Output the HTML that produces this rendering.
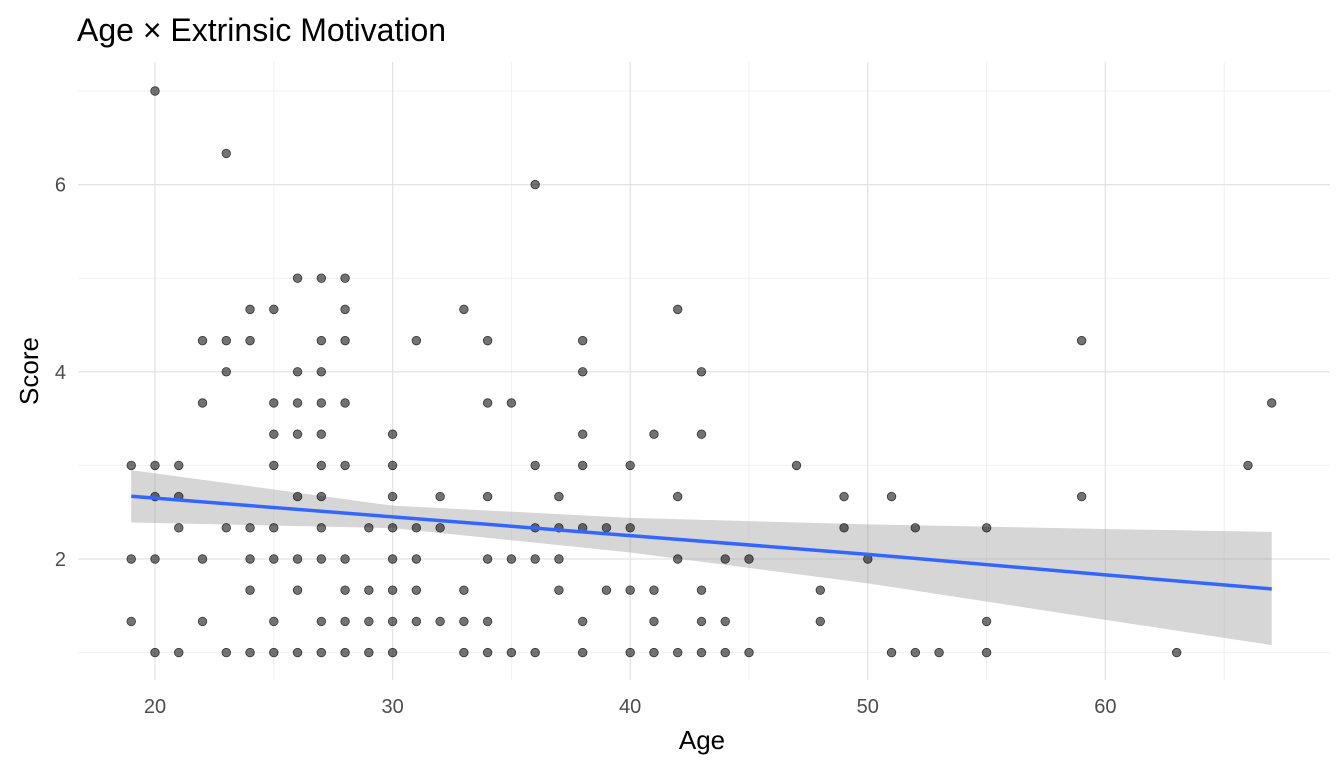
<!DOCTYPE html>
<html><head><meta charset="utf-8"><style>
html,body{margin:0;padding:0;background:#fff;}
svg{display:block;font-family:"Liberation Sans",Arial,sans-serif;}
</style></head><body>
<svg id="chart" width="1344" height="768" viewBox="0 0 1344 768" xmlns="http://www.w3.org/2000/svg">
<rect x="0" y="0" width="1344" height="768" fill="#fff"/>
<g id="grid"></g>
<g id="ribbon"></g>
<g id="points"></g>
<g id="fit"></g>
<g id="ticks"></g>
<text x="77" y="41" font-size="32" fill="#000">Age × Extrinsic Motivation</text>
<text x="702" y="749" font-size="26" text-anchor="middle" fill="#000">Age</text>
<text transform="translate(38,371) rotate(-90)" font-size="26" text-anchor="middle" fill="#000">Score</text>
</svg>
<script>
const xTicks = [20,30,40,50,60];
const xMinor = [25,35,45,55,65];
const yTicks = [2,4,6];
const yMinor = [1,3,5,7];
const ages = [19,19,19,20,20,20,20,20,21,21,21,21,22,22,22,22,23,23,23,23,23,24,24,24,24,24,24,25,25,25,25,25,25,25,25,26,26,26,26,26,26,26,26,27,27,27,27,27,27,27,27,27,27,27,28,28,28,28,28,28,28,28,28,29,29,29,29,30,30,30,30,30,30,30,30,31,31,31,31,31,32,32,32,33,33,33,33,34,34,34,34,34,34,35,35,35,36,36,36,36,36,37,37,37,37,38,38,38,38,38,38,38,39,39,40,40,40,40,41,41,41,41,42,42,42,42,43,43,43,43,43,44,44,44,45,45,47,48,48,49,49,50,51,51,52,52,53,55,55,55,59,59,63,66,67];
const scores = [3,2,1.333,7,3,2.667,2,1,3,2.667,2.333,1,4.333,3.667,2,1.333,6.333,4.333,4,2.333,1,4.667,4.333,2.333,2,1.667,1,4.667,3.667,3.333,3,2.333,2,1.333,1,5,4,3.667,3.333,2.667,2,1.667,1,5,4.333,4,3.667,3.333,3,2.667,2.333,2,1.333,1,5,4.667,4.333,3.667,3,2,1.667,1.333,1,2.333,1.667,1.333,1,3.333,3,2.667,2.333,2,1.667,1.333,1,4.333,2.333,2,1.667,1.333,2.667,2.333,1.333,4.667,1.667,1.333,1,4.333,3.667,2.667,2,1.333,1,3.667,2,1,6,3,2.333,2,1,2.667,2.333,2,1.667,4.333,4,3.333,3,2.333,1.333,1,2.333,1.667,3,2.333,1.667,1,3.333,1.667,1.333,1,4.667,2.667,2,1,4,3.333,1.667,1.333,1,2,1.333,1,2,1,3,1.667,1.333,2.667,2.333,2,2.667,1,2.333,1,1,2.333,1.333,1,4.333,2.667,1,3,3.667];
const fitAge = [19,30,40,50,60,67];
const fitVal = [2.67,2.45,2.25,2.05,1.83,1.68];
const fitLo = [2.39,2.33,2.07,1.74,1.35,1.08];
const fitHi = [2.95,2.57,2.44,2.37,2.32,2.29];

const X = v => 155 + (v-20)*23.76;
const Y = v => 559 - (v-2)*93.6;
const L=78,R=1330,T=62,B=680;
const NS="http://www.w3.org/2000/svg";
function mk(tag,attrs,parent){const e=document.createElementNS(NS,tag);for(const k in attrs)e.setAttribute(k,attrs[k]);parent.appendChild(e);return e;}
const grid=document.getElementById('grid');
xMinor.forEach(v=>{const l=mk('line',{x1:X(v),x2:X(v),y1:T,y2:B,stroke:'#f0f0f0','stroke-width':1},grid);

});
yMinor.forEach(v=>{const l=mk('line',{x1:L,x2:R,y1:Y(v),y2:Y(v),stroke:'#f0f0f0','stroke-width':1},grid);

});
xTicks.forEach(v=>{const l=mk('line',{x1:X(v),x2:X(v),y1:T,y2:B,stroke:'#e4e4e4','stroke-width':1.3},grid);

});
yTicks.forEach(v=>{const l=mk('line',{x1:L,x2:R,y1:Y(v),y2:Y(v),stroke:'#e4e4e4','stroke-width':1.3},grid);

});
const ticks=document.getElementById('ticks');
xTicks.forEach(v=>{const t=mk('text',{x:X(v),y:713,'font-size':20,'text-anchor':'middle',fill:'#4d4d4d'},ticks);t.textContent=v;

});
yTicks.forEach(v=>{const t=mk('text',{x:66,y:Y(v)+7,'font-size':20,'text-anchor':'end',fill:'#4d4d4d'},ticks);t.textContent=v;

});
let d='';
fitAge.forEach((a,i)=>{d+=(i?'L':'M')+X(a)+','+Y(fitHi[i]);});
for(let i=fitAge.length-1;i>=0;i--)d+='L'+X(fitAge[i])+','+Y(fitLo[i]);
const rb=mk('path',{d:d+'Z',fill:'#999',opacity:0.4},document.getElementById('ribbon'));


const pts=document.getElementById('points');
ages.forEach((a,i)=>{const c=mk('circle',{cx:X(a),cy:Y(scores[i]),r:4.3,fill:'#000','fill-opacity':0.55,stroke:'#000','stroke-opacity':0.7,'stroke-width':0.8},pts);

});
const ln=mk('polyline',{points:fitAge.map((a,i)=>X(a)+','+Y(fitVal[i])).join(' '),fill:'none',stroke:'#3366ff','stroke-width':3.5},document.getElementById('fit'));


</script>
</body></html>
